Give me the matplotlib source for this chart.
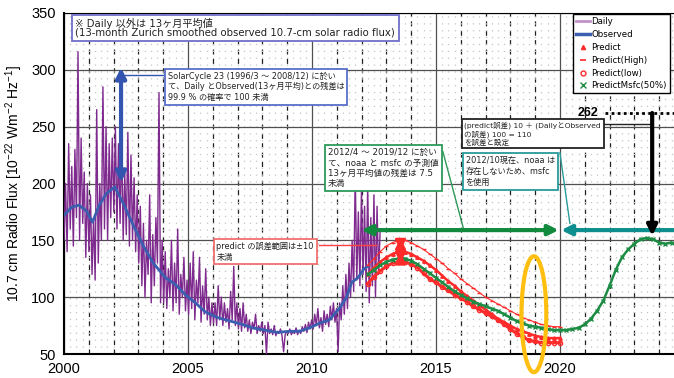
import numpy as np
import matplotlib
matplotlib.use("Agg")
import matplotlib.pyplot as plt
from matplotlib.patches import Ellipse
from matplotlib.lines import Line2D

plt.rcParams['font.family'] = ['Liberation Sans', 'Noto Sans CJK JP', 'DejaVu Sans']
plt.rcParams['mathtext.default'] = 'regular'
NOTE_FONT = ['DejaVu Sans', 'Noto Sans CJK JP']

# daily 10.7cm flux, 16 samples per year from 2000.0, last 12 in 2012
daily_flux = [
    150, 200, 140, 235, 160, 215, 145, 230, 170, 316, 150, 240, 165, 210, 135, 200,  # 2000
    140, 190, 120, 170, 115, 265, 130, 200, 150, 285, 160, 250, 150, 235, 170, 240,  # 2001
    175, 250, 160, 235, 165, 240, 150, 210, 155, 245, 145, 225, 150, 205, 140, 190,  # 2002
    130, 180, 110, 165, 100, 150, 120, 190, 95, 155, 110, 170, 130, 280, 95, 150,    # 2003
    95, 140, 90, 125, 100, 150, 88, 130, 95, 160, 85, 120, 100, 135, 88, 115,        # 2004
    85, 130, 90, 140, 80, 115, 95, 135, 78, 110, 85, 125, 80, 100, 75, 95,           # 2005
    77, 95, 75, 110, 80, 100, 75, 95, 78, 90, 72, 105, 80, 127, 75, 95,              # 2006
    72, 90, 70, 95, 73, 85, 70, 80, 68, 78, 72, 85, 68, 75, 70, 78,                  # 2007
    68, 75, 50, 78, 68, 72, 67, 75, 66, 70, 68, 72, 66, 52, 67, 70,                  # 2008
    68, 72, 67, 70, 68, 73, 67, 71, 68, 74, 70, 76, 69, 78, 72, 80,                  # 2009
    72, 85, 75, 90, 73, 82, 70, 88, 76, 85, 74, 92, 80, 95, 78, 90,                  # 2010
    52, 95, 80, 110, 85, 120, 90, 130, 100, 150, 105, 210, 115, 175, 110, 195,       # 2011
    120, 180, 105, 200, 95, 170, 110, 190, 100, 180, 120, 160,                       # 2012
]
daily_year = np.linspace(2000.0, 2012.75, len(daily_flux))

# 13-month smoothed observed flux
obs_year = [2000.0, 2000.3, 2000.6, 2000.9, 2001.15, 2001.4, 2001.7, 2002.05, 2002.4,
            2002.8, 2003.2, 2003.6, 2004.1, 2004.5, 2004.9, 2005.3, 2005.7, 2006.2,
            2006.7, 2007.2, 2007.6, 2008.1, 2008.6, 2009.1, 2009.5, 2009.9, 2010.3,
            2010.7, 2011.1, 2011.4, 2011.6, 2011.85, 2012.1, 2012.3]
obs_flux = [172, 179, 181, 176, 166, 180, 191, 197, 182, 163, 145, 130, 117, 111, 102,
            95, 87, 82, 79, 76, 73, 71, 69, 70, 70, 73, 77, 80, 90, 100, 113, 117, 125, 128]

# noaa style predictions, quarterly from 2012.25 to 2020.0
pred_year = np.arange(2012.25, 2020.01, 0.25)
pred_mid = [120, 126, 131, 135, 138, 140, 140, 138, 135, 132, 128, 124, 119, 114, 110, 105,
            101, 97, 93, 89, 85, 81, 78, 75, 72, 70, 68, 66, 65, 64, 64, 64]
pred_high = [128, 134, 140, 145, 148, 150, 150, 148, 145, 142, 138, 134, 130, 125, 121, 116,
             112, 108, 104, 100, 97, 94, 91, 88, 85, 82, 80, 78, 76, 75, 74, 74]
pred_low = [112, 118, 123, 127, 130, 131, 131, 129, 126, 121, 116, 113, 109, 106, 102, 99,
            96, 92, 89, 86, 83, 80, 76, 72, 68, 65, 62, 61, 60, 60, 60, 60]

# msfc 50% prediction, quarterly from 2012.25 to 2024.5
msfc_year = np.arange(2012.25, 2024.51, 0.25)
msfc_flux = [120, 124, 128, 131, 133, 134, 134, 132, 129, 125, 121, 117, 113, 109, 105, 102,
             99, 96, 94, 92, 90, 88, 85, 82, 79, 77, 75, 74, 73, 72, 71, 71,
             71, 72, 73, 76, 81, 88, 97, 110, 124, 135, 142, 147, 151, 152, 151, 148, 147, 148]

fig = plt.figure(figsize=(6.74, 3.78), dpi=100)
ax = fig.add_axes([64 / 674, 1 - 354 / 378, 610 / 674, 341 / 378])
ax.set_xlim(2000, 2024.6)
ax.set_ylim(50, 350)

# background grid: dots, yearly dashes, solid every 5 years / 50 units
ax.set_xticks(range(2000, 2025, 5))
ax.set_yticks(range(50, 351, 50))
ax.set_xticks(np.arange(2000, 2024.6, 0.25), minor=True)
ax.tick_params(which='minor', length=0)
ax.grid(which='minor', axis='x', color='#c4c4c4', lw=0.9, ls=(0, (1, 4.5)), zorder=0)
ax.grid(which='major', color='#505050', lw=0.9, zorder=1)
for yr in range(2001, 2025):
    if yr % 5:
        ax.axvline(yr, color='#202020', lw=0.9, ls=(0, (4, 3.5)), zorder=1)

ax.plot(daily_year, daily_flux, color='#7e2a8e', lw=1.0, zorder=3)
ax.plot(obs_year, obs_flux, color='#3a5fb0', lw=2.0, zorder=4)

ax.plot(pred_year, pred_high, color='#ff2a2a', lw=0.8, marker='_', ms=3, mew=1, zorder=5)
ax.plot(pred_year, pred_mid, color='#ff2a2a', lw=1.8, marker='^', ms=2.5, zorder=5)
ax.plot(pred_year, pred_low, color='#ff2a2a', lw=2.2, marker='o', ms=3, mfc='none', mew=1, zorder=5)
ax.plot(msfc_year, msfc_flux, color='#1d8c45', lw=1.8, marker='x', ms=3.5, mew=1, zorder=6)

# notes
def note(x, y, s, ec, size, spacing):
    ax.text(x, y, s, fontsize=size, family=NOTE_FONT, va='top', ha='left', linespacing=spacing,
            color='#222222', zorder=9,
            bbox=dict(boxstyle='square,pad=0.35', fc='white', ec=ec, lw=1.3))

note(2000.45, 345.5, '※ Daily 以外は 13ヶ月平均値\n(13-month Zurich smoothed observed 10.7-cm solar radio flux)',
     '#7070c8', 7.3, 0.85)
note(2004.18, 298.5, 'SolarCycle 23 (1996/3 ～ 2008/12) に於い\nて、Daily とObserved(13ヶ月平均)との残差は\n99.9 % の確率で 100 未満',
     '#5a6ec8', 5.9, 1.25)
note(2010.65, 231, '2012/4 ～ 2019/12 に於い\nて、noaa と msfc の予測値\n13ヶ月平均値の残差は 7.5\n未満',
     '#2e9a5a', 6.2, 1.2)
note(2016.2, 224.5, '2012/10現在、noaa は\n存在しないため、msfc\nを使用', '#2a9a9a', 5.9, 1.3)
note(2016.15, 254.5, '(predict誤差) 10 ＋ (DailyとObserved\nの誤差) 100 = 110\nを誤差と設定', '#222222', 5.4, 1.1)
note(2006.15, 148.5, 'predict の誤差範囲は±10\n未満', '#f07070', 5.9, 1.2)

# arrows
def darrow(p0, p1, color, lw, style='<|-|>'):
    ax.annotate('', xy=p1, xytext=p0, zorder=8,
                arrowprops=dict(arrowstyle=style + ',head_length=0.6,head_width=0.3',
                                color=color, lw=lw, shrinkA=0, shrinkB=0))

darrow((2002.3, 201), (2002.3, 302), '#3355b0', 3)
ax.plot([2002.4, 2004.1], [295.5, 295.5], color='#3355b0', lw=1, zorder=7)

darrow((2012.0, 159), (2019.95, 159), '#118a3e', 3)
darrow((2024.6, 159), (2020.05, 159), '#0e8f8f', 3, style='-|>')
ax.plot([2015.28, 2016.1], [228, 161], color='#2e9a5a', lw=1, zorder=7)
ax.plot([2020.0, 2020.4], [227, 165], color='#2a9a9a', lw=1, zorder=7)

darrow((2013.57, 141), (2013.57, 152), '#ff2a2a', 2)
darrow((2013.57, 139), (2013.57, 130), '#ff2a2a', 2)
ax.plot([2010.3, 2012.6], [146, 146], color='#ff4040', lw=1, zorder=7)

ax.plot([2021.8, 2024.6], [262, 262], color='black', lw=2, ls=(0, (1, 1.2)), zorder=7)
ax.text(2021.55, 262, '262', fontsize=9, fontweight='bold', ha='right', va='center', zorder=9)
darrow((2023.72, 262), (2023.72, 154), 'black', 3, style='-|>')
ax.plot([2021.75, 2023.7], [252, 252], color='#222222', lw=1, zorder=7)

ax.add_patch(Ellipse((2018.95, 85), 1.0, 102, fill=False, ec='#ffbf10', lw=3,
                     clip_on=False, zorder=10))

handles = [
    Line2D([], [], color='#c490c8', lw=2),
    Line2D([], [], color='#3a5fb0', lw=2.5),
    Line2D([], [], color='#ff2a2a', ls='none', marker='^', ms=3),
    Line2D([], [], color='#ff2a2a', ls='none', marker='_', ms=4, mew=1.2),
    Line2D([], [], color='#ff2a2a', ls='none', marker='o', ms=3.5, mfc='none', mew=1),
    Line2D([], [], color='#1d8c45', ls='none', marker='x', ms=4, mew=1),
]
labels = ['Daily', 'Observed', 'Predict', 'Predict(High)', 'Predict(low)', 'PredictMsfc(50%)']
leg = ax.legend(handles, labels, loc='upper right', bbox_to_anchor=(0.993, 0.997),
                prop={'family': 'DejaVu Sans', 'size': 6.2},
                handlelength=1.6, handletextpad=0.2, labelspacing=0.45,
                borderpad=0.35, borderaxespad=0, fancybox=False, edgecolor='black',
                framealpha=1)
leg.get_frame().set_linewidth(1.0)
leg.set_zorder(11)

for s in ['left', 'bottom']:
    ax.spines[s].set_linewidth(1.5)
ax.spines['right'].set_visible(False)
ax.spines['top'].set_linewidth(0.8)
ax.tick_params(which='major', length=0, labelsize=10.5, pad=6)
ax.set_ylabel('10.7 cm Radio Flux [10$^{-22}$ Wm$^{-2}$ Hz$^{-1}$]', fontsize=10, labelpad=4)

fig.savefig('out.png', dpi=100)
